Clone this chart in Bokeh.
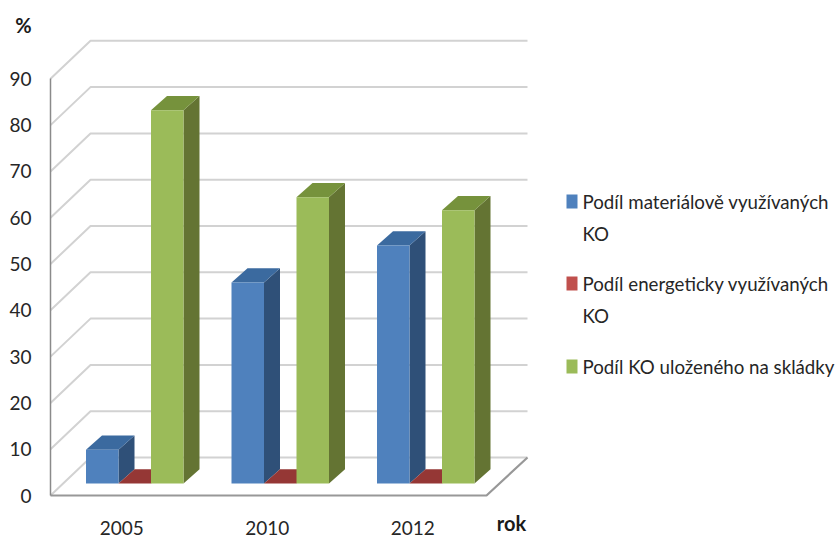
from bokeh.plotting import figure
from bokeh.models import Range1d, FixedTicker
from bokeh.core.properties import value
from bokeh.embed import file_html
from bokeh.resources import INLINE

years = ["2005", "2010", "2012"]
material = [7.3, 43.4, 51.4]
energy = [0.0, 0.0, 0.0]
landfill = [80.6, 61.8, 59.0]
y_ticks = [0, 10, 20, 30, 40, 50, 60, 70, 80, 90]
names = [["Podíl materiálově využívaných", "KO"], ["Podíl energeticky využívaných", "KO"], ["Podíl KO uloženého na skládky"]]

FONT = "Lato"
W, H = 837, 540
U = 4.63                     # px per percent
Y0 = 495                     # y of value 0 on the front plane
left, right = 50, 486        # front edge of the floor
dx_w, dy_w = 41, 38 / U      # wall depth
base = 12 / U                # bars stand this far up the floor
dx_b, dy_b = 16, 14.3 / U    # bar depth
first, step, bar = 85.5, 145.5, 32.5

p = figure(width=W, height=H, output_backend="svg", toolbar_location=None,
           x_range=Range1d(0, W), y_range=Range1d((Y0 - H) / U, Y0 / U),
           min_border_left=0, min_border_right=0, min_border_top=0, min_border_bottom=0)
p.outline_line_color = None
p.grid.visible = False
p.background_fill_color = "white"

# walls
grid = "#d2d2d2"
for v in y_ticks:
    p.line([left, left + dx_w - 1, right + dx_w], [v, v + dy_w, v + dy_w],
           line_color=grid, line_width=2)
p.line([left, right, right + dx_w], [0, 0, dy_w], line_color="#989898", line_width=2.2)

styles = [("#4f81bd", "#3b6a9f", "#2f5078"),
          ("#c0504d", "#953735", "#7f2f2d"),
          ("#9bbb59", "#76923c", "#647433")]
series = [material, energy, landfill]
for s, (vals, (cf, ct, cs)) in enumerate(zip(series, styles)):
    for i, v in enumerate(vals):
        x0 = first + i * step + s * bar
        x1 = x0 + bar
        y0, y1 = base, base + v
        p.patch([x1, x1 + dx_b, x1 + dx_b, x1], [y0, y0 + dy_b, y1 + dy_b, y1], fill_color=cs, line_color=None)
        p.patch([x0, x1, x1 + dx_b, x0 + dx_b], [y1, y1, y1 + dy_b, y1 + dy_b], fill_color=ct, line_color=None)
        p.quad(left=x0, right=x1, bottom=y0, top=y1, fill_color=cf, line_color=None)

# legend
key_rows = [201, 283, 366]
for lines, row, (cf, _, _) in zip(names, key_rows, styles):
    yc = (Y0 - row) / U
    p.quad(left=566, right=577, bottom=yc - 7 / U, top=yc + 7 / U, fill_color=cf, line_color=None)
    for k, line in enumerate(lines):
        p.text(x=[582], y=[yc - k * 32 / U], text=[line], text_baseline="middle", text_align="left",
               text_font=value(FONT), text_font_size="18.7px", text_color="#262626")

# axes
ya = p.yaxis[0]
ya.fixed_location = left
ya.ticker = FixedTicker(ticks=y_ticks)
ya.bounds = (0, 90)
ya.axis_line_color = "#8a8a8a"
ya.axis_line_width = 1.5
ya.major_tick_line_color = None
ya.minor_tick_line_color = None
ya.major_label_standoff = 13
ya.major_label_text_font = FONT
ya.major_label_text_font_size = "19px"
ya.major_label_text_color = "#262626"

xa = p.xaxis[0]
xa.fixed_location = 0
centers = [first + i * step + 1.5 * bar - 13 for i in range(len(years))]
xa.ticker = FixedTicker(ticks=centers)
xa.major_label_overrides = dict(zip(centers, years))
xa.axis_line_color = None
xa.major_tick_line_color = None
xa.minor_tick_line_color = None
xa.major_label_standoff = 19
xa.major_label_text_font = FONT
xa.major_label_text_font_size = "19px"
xa.major_label_text_color = "#262626"

for txt, x, y in [("%", 23, 24), ("rok", 511, 522)]:
    p.text(x=[x], y=[(Y0 - y) / U], text=[txt], text_align="center", text_baseline="middle",
           text_font=value(FONT), text_font_size="20px", text_font_style="bold", text_color="#1a1a1a")

open("out.html", "w").write(file_html(p, INLINE))
